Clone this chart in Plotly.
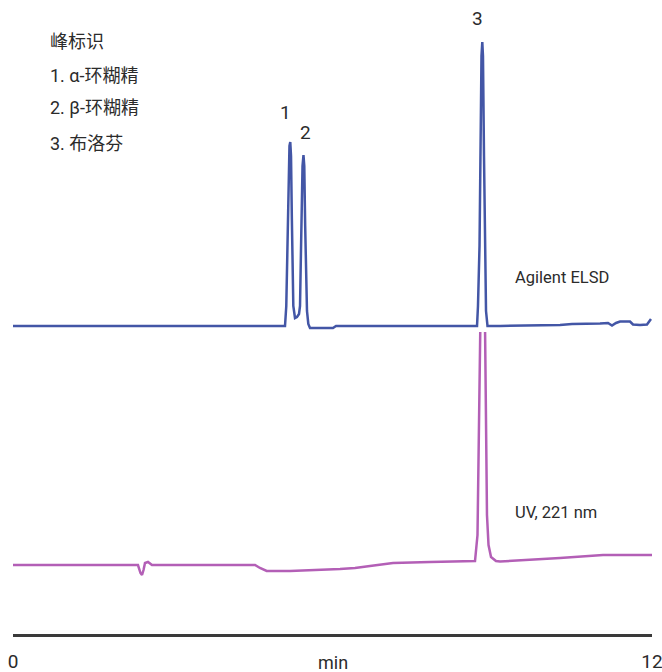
import plotly.graph_objects as go

# ---- data (time in min, detector response in arbitrary units) ----
elsd_t = [0.0, 5.108, 5.132, 5.146, 5.164, 5.192, 5.207, 5.221, 5.236, 5.249, 5.264,
          5.296, 5.333, 5.371, 5.390, 5.403, 5.418, 5.437, 5.455, 5.470, 5.487, 5.502,
          5.521, 5.546, 5.577, 6.009, 6.066, 8.714, 8.732, 8.761, 8.779, 8.798, 8.813,
          8.826, 8.845, 8.864, 8.883, 8.911, 9.146, 10.272, 10.498, 11.024, 11.174,
          11.249, 11.324, 11.399, 11.587, 11.643, 11.775, 11.906, 11.981]
elsd_v = [0, 0, 20, 64, 120, 180, 184, 170, 110, 60, 20,
          8, 9, 12, 20, 60, 110, 160, 171, 160, 100, 50,
          15, 2, -2, -2, 0, 0, 20, 80, 190, 270, 284,
          270, 170, 60, 15, 0, 0, 1, 2, 2.5, 3,
          0.5, 3, 4.5, 4.5, 1.5, 1, 1.5, 7]

uv_t = [0.0, 2.347, 2.394, 2.423, 2.451, 2.479, 2.535, 2.610, 4.545, 4.638, 4.764,
        5.202, 6.141, 6.423, 6.704, 7.136, 7.831, 8.657, 8.676, 8.723, 8.751, 8.770,
        8.817, 8.864, 8.883, 8.901, 8.930, 8.977, 9.070, 9.146, 10.272, 10.704,
        11.080, 12.0]
uv_v = [0, 0, -8, -10, -5, 2, 3, 0, 0, -3, -6,
        -6, -4, -3, -1, 2, 3, 4, 4, 30, 150, 240,
        400, 240, 120, 50, 20, 8, 4, 3.5, 7, 9,
        10, 10]

peak_labels = ["1", "2", "3"]
peak_t = [5.108, 5.484, 8.732]
peak_v = [214, 194, 308]

legend_lines = ["峰标识", "1. α-环糊精", "2. β-环糊精", "3. 布洛芬"]
trace_names = ["Agilent ELSD", "UV, 221 nm"]
x_ticks = [0, 12]
x_title = "min"

FONT = "Roboto, Noto Sans CJK SC, sans-serif"
TXT = "#2b2b2b"

fig = go.Figure()
fig.add_trace(go.Scatter(x=elsd_t, y=elsd_v, mode="lines", name=trace_names[0],
                         line=dict(color="#4356a6", width=2.5), yaxis="y"))
fig.add_trace(go.Scatter(x=uv_t, y=uv_v, mode="lines", name=trace_names[1],
                         line=dict(color="#b35fb6", width=2.5), yaxis="y2"))

ann = []
for lab, t, v in zip(peak_labels, peak_t, peak_v):
    ann.append(dict(x=t, y=v, xref="x", yref="y", text=lab, showarrow=False,
                    font=dict(size=19, color=TXT, family=FONT)))
ann.append(dict(x=9.39, y=49, xref="x", yref="y", text=trace_names[0], showarrow=False,
                xanchor="left", font=dict(size=16.5, color=TXT, family=FONT)))
ann.append(dict(x=9.39, y=53, xref="x", yref="y2", text=trace_names[1], showarrow=False,
                xanchor="left", font=dict(size=16.5, color=TXT, family=FONT)))
leg_y = [0.9338, 0.8817, 0.8297, 0.7744]
for txt, yy in zip(legend_lines, leg_y):
    ann.append(dict(x=0.0548, y=yy, xref="paper", yref="paper", text=txt, showarrow=False,
                    xanchor="left", yanchor="middle", font=dict(size=18, color=TXT, family=FONT)))
ann.append(dict(x=0.5, y=0, xref="paper", yref="paper", text=x_title, showarrow=False,
                yanchor="middle", yshift=-28, font=dict(size=18, color=TXT, family=FONT)))

fig.update_layout(
    width=662, height=672,
    margin=dict(l=13, r=10, t=0, b=38),
    paper_bgcolor="white", plot_bgcolor="white",
    showlegend=False,
    xaxis=dict(range=[0, 12], tickvals=x_ticks, ticktext=[str(v) for v in x_ticks],
               showgrid=False, zeroline=False, showline=True, linecolor="#3a3a3a",
               linewidth=3, ticks="", tickfont=dict(size=19, color=TXT, family=FONT),
               ticklabelstandoff=8, ticklabeloverflow="allow"),
    yaxis=dict(range=[-308, 326], domain=[0, 1], visible=False, fixedrange=True),
    yaxis2=dict(range=[-69, 233], domain=[0, 0.4763], visible=False, anchor="x"),
    annotations=ann,
)

fig.write_html("out.html")
